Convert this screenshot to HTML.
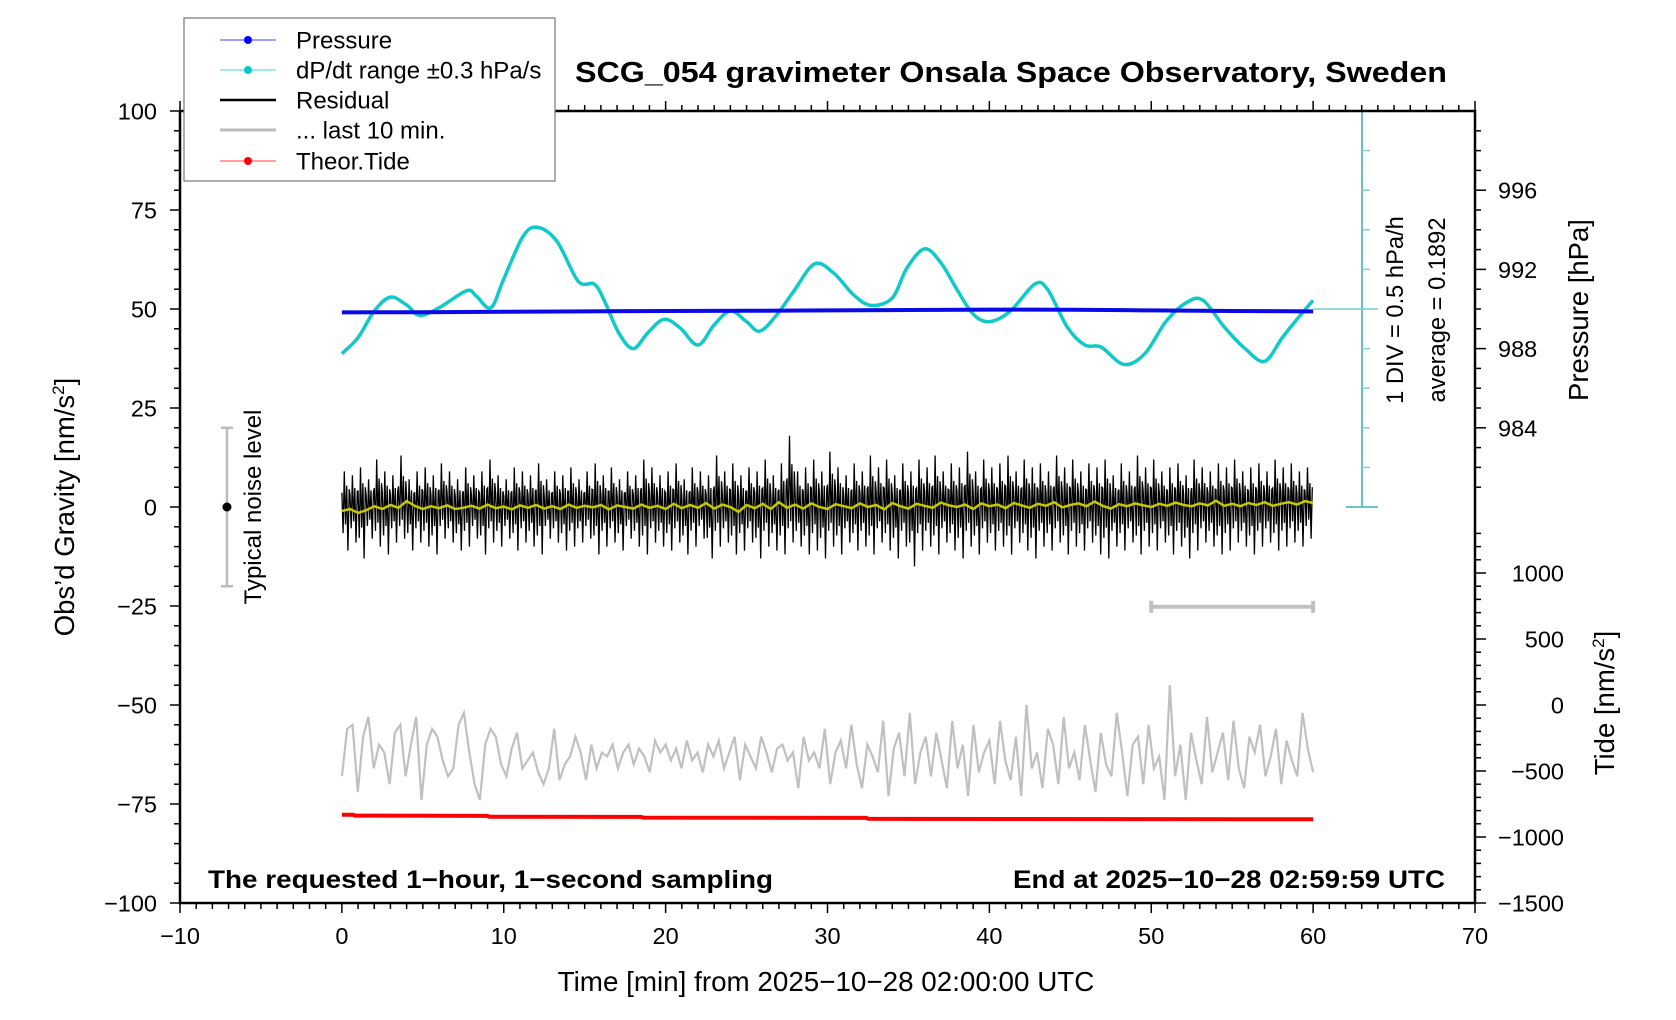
<!DOCTYPE html>
<html><head><meta charset="utf-8"><style>
html,body{margin:0;padding:0;background:#fff}
svg{display:block;font-family:"Liberation Sans",Arial,sans-serif}
</style></head><body>
<svg id="chart" width="1676" height="1020" viewBox="0 0 1676 1020" xmlns="http://www.w3.org/2000/svg">
<rect width="1676" height="1020" fill="#fff"/>
<g id="marks"></g>
<g id="axes"></g>
<text x="1011" y="82" text-anchor="middle" font-size="29" font-weight="bold" textLength="872" lengthAdjust="spacingAndGlyphs">SCG_054 gravimeter Onsala Space Observatory, Sweden</text>
<text x="208" y="888" font-size="25" font-weight="bold" textLength="565" lengthAdjust="spacingAndGlyphs">The requested 1−hour, 1−second sampling</text>
<text x="1445" y="888" text-anchor="end" font-size="25" font-weight="bold" textLength="432" lengthAdjust="spacingAndGlyphs">End at 2025−10−28 02:59:59 UTC</text>
<text x="826" y="991" text-anchor="middle" font-size="27.8">Time [min] from 2025−10−28 02:00:00 UTC</text>
<text transform="translate(74,507) rotate(-90)" text-anchor="middle" font-size="27.5">Obs’d Gravity [nm/s<tspan font-size="17" dy="-10">2</tspan><tspan dy="10">]</tspan></text>
<text transform="translate(1588,310) rotate(-90)" text-anchor="middle" font-size="27.5">Pressure [hPa]</text>
<text transform="translate(1614,703) rotate(-90)" text-anchor="middle" font-size="27.5">Tide [nm/s<tspan font-size="17" dy="-10">2</tspan><tspan dy="10">]</tspan></text>
<text transform="translate(1403,310) rotate(-90)" text-anchor="middle" font-size="23.7">1 DIV = 0.5 hPa/h</text>
<text transform="translate(1445,310) rotate(-90)" text-anchor="middle" font-size="23.7">average = 0.1892</text>
<text transform="translate(261,507) rotate(-90)" text-anchor="middle" font-size="24">Typical noise level</text>
<g>
<rect x="184" y="18" width="371" height="163" fill="#fff" stroke="#777" stroke-width="1.2"/>
<g><line x1="220" y1="40" x2="276" y2="40" stroke="#6666ff" stroke-width="1.2"/><circle cx="248" cy="40" r="4" fill="#0000ff"/><text x="296" y="48.5" font-size="24">Pressure</text></g>
<g><line x1="220" y1="70" x2="276" y2="70" stroke="#66dddd" stroke-width="1.2"/><circle cx="248" cy="70" r="4" fill="#00cccc"/><text x="296" y="78.5" font-size="24">dP/dt range ±0.3 hPa/s</text></g>
<g><line x1="220" y1="100" x2="276" y2="100" stroke="#000" stroke-width="2.5"/><text x="296" y="108.5" font-size="24">Residual</text></g>
<g><line x1="220" y1="130" x2="276" y2="130" stroke="#bbb" stroke-width="3"/><text x="296" y="138.5" font-size="24">... last 10 min.</text></g>
<g><line x1="220" y1="161" x2="276" y2="161" stroke="#ff6666" stroke-width="1.2"/><circle cx="248" cy="161" r="4" fill="#ff0000"/><text x="296" y="169.5" font-size="24">Theor.Tide</text></g>
</g>
</svg>
<script>
// ---- data ----
const dpdtTimes = [0,1,2,3,4,4.8,6,7.7,8.3,9.2,10,11.2,12.1,13.3,14.6,15.6,16.2,17.1,18,18.9,19.9,20.9,22,23,24,25,25.8,26.8,27.9,29.2,30.4,31.6,32.7,34,34.9,36,37,38,39,40,41.3,42.8,43.6,44.8,45.9,46.9,48.3,49.6,50.9,52.2,53.2,54.5,55.8,57,58.1,59.1,60];
const dpdtValues = [-0.565,-0.36,-0.025,0.15,0.05,-0.08,0.015,0.23,0.165,0.015,0.38,0.92,1.03,0.85,0.35,0.315,0.11,-0.3,-0.5,-0.3,-0.13,-0.24,-0.455,-0.2,-0.025,-0.16,-0.28,-0.09,0.22,0.57,0.45,0.18,0.045,0.14,0.515,0.76,0.585,0.245,-0.065,-0.16,-0.025,0.315,0.245,-0.225,-0.455,-0.48,-0.7,-0.565,-0.16,0.085,0.11,-0.225,-0.5,-0.66,-0.36,-0.105,0.11];
const pressureTimes = [0,5,10,15,20,25,30,35,40,45,50,55,60];
const pressureValues = [989.83,989.84,989.86,989.88,989.90,989.91,989.93,989.95,989.97,989.96,989.93,989.90,989.88];
const tideTimes = [0,0.7,0.8,9,9.1,18.5,18.6,32.4,32.5,60];
const tideValues = [-832,-832,-838,-840,-846,-848,-853,-855,-862,-866];
const resMax = [9,8,10,7,12,9,8,13,7,9,10,8,11,9,7,10,8,9,12,8,7,10,9,8,11,7,9,8,10,7,9,11,8,10,7,9,8,12,10,8,9,11,7,10,9,8,13,9,11,8,10,9,12,8,11,18,9,10,12,9,14,10,8,11,9,13,10,12,8,11,9,12,10,13,9,11,10,14,9,12,10,11,13,9,12,10,11,9,13,10,12,9,11,10,12,8,11,9,13,10,12,9,10,11,8,12,10,9,11,10,12,9,10,11,9,12,10,11,9,10];
const resMin = [-11,-9,-13,-8,-10,-12,-9,-8,-11,-9,-10,-12,-8,-9,-11,-10,-8,-12,-9,-10,-8,-11,-9,-10,-12,-8,-9,-11,-10,-9,-8,-12,-10,-9,-11,-8,-10,-12,-9,-10,-11,-9,-12,-10,-8,-13,-10,-9,-12,-11,-9,-13,-10,-11,-12,-9,-10,-12,-11,-13,-10,-12,-9,-11,-10,-12,-9,-11,-13,-10,-15,-11,-10,-12,-9,-11,-13,-10,-12,-9,-11,-10,-12,-9,-11,-13,-10,-11,-9,-12,-10,-11,-9,-12,-13,-10,-11,-9,-12,-10,-11,-9,-12,-10,-13,-11,-9,-10,-12,-11,-9,-10,-12,-10,-9,-11,-10,-9,-10,-8];
const smoothValues = [-1,-0.5,-1.5,-0.8,0.2,-0.5,0.5,-0.2,1.5,0.3,-0.5,0.2,-0.3,0.4,-0.5,-0.2,0.3,-0.4,0.6,-0.3,0.1,-0.6,0.4,-0.2,0.5,-0.4,0.2,-0.5,0.6,-0.2,0.3,-0.1,0.5,-0.6,0.4,0,-0.4,0.6,-0.2,0.3,-0.5,0.8,-0.3,0.5,-0.2,1,-0.4,0.6,0,-1.2,0.5,-0.3,0.8,-0.5,1.2,-0.2,0.6,-0.4,0.9,0,-0.5,0.7,0.2,-0.3,0.9,0,0.5,-0.6,1,0.2,-0.4,0.8,0.3,-0.2,1.1,0.4,0,0.6,-0.5,0.9,0.2,0.6,-0.3,1,0.4,-0.2,0.8,0.3,1.2,-0.1,0.5,0.9,0.2,1.4,0.3,-0.4,0.7,0.2,0.9,0.4,0,0.8,0.3,1.1,0.5,0.2,0.9,0.4,1.6,0.3,0.8,0.2,1,0.5,1.2,0.3,0.8,1.2,0.6,1.5,1];
const last10Values = [-68,-56,-55,-72,-58,-53,-66,-60,-62,-70,-57,-55,-68,-60,-53,-74,-60,-56,-58,-64,-68,-66,-55,-52,-62,-70,-74,-60,-56,-58,-65,-68,-61,-57,-66,-64,-62,-67,-70,-66,-56,-69,-65,-63,-58,-62,-69,-60,-66,-62,-63,-60,-66,-62,-60,-65,-61,-63,-67,-59,-62,-60,-64,-61,-66,-59,-64,-62,-67,-60,-63,-59,-66,-62,-58,-69,-60,-63,-66,-58,-62,-67,-61,-60,-64,-62,-71,-58,-64,-62,-66,-56,-70,-62,-59,-66,-55,-65,-71,-60,-63,-67,-54,-73,-61,-57,-68,-52,-70,-62,-58,-68,-57,-64,-71,-54,-66,-60,-73,-55,-67,-62,-59,-70,-54,-64,-69,-58,-73,-50,-66,-62,-71,-56,-60,-70,-53,-66,-62,-69,-55,-64,-72,-57,-65,-68,-52,-62,-73,-60,-58,-70,-55,-66,-63,-74,-45,-68,-60,-74,-57,-64,-70,-53,-67,-62,-57,-69,-54,-66,-71,-58,-62,-55,-68,-63,-56,-70,-59,-64,-68,-52,-61,-67];
const xTicks = [-10,0,10,20,30,40,50,60,70];
const gTicks = [-100,-75,-50,-25,0,25,50,75,100];
const pTicks = [984,988,992,996];
const tTicks = [-1500,-1000,-500,0,500,1000];

// ---- scales ----
const xs = t => 180 + (t + 10) * 16.1875;
const yg = g => 507 - g * 3.96;
const yp = p => 111 + (1000 - p) * 19.8;
const yt = v => 903 - (v + 1500) * 0.132;
const yd = v => yg(50 + v * 20);
const NS = 'http://www.w3.org/2000/svg';
const marks = document.getElementById('marks');
const axes = document.getElementById('axes');
function mk(tag, attrs, parent) {
  const e = document.createElementNS(NS, tag);
  for (const k in attrs) e.setAttribute(k, attrs[k]);
  parent.appendChild(e);
  return e;
}
function smoothPath(pts) {
  let d = 'M' + pts[0][0].toFixed(1) + ',' + pts[0][1].toFixed(1);
  for (let i = 0; i < pts.length - 1; i++) {
    const p0 = pts[Math.max(i - 1, 0)], p1 = pts[i], p2 = pts[i + 1], p3 = pts[Math.min(i + 2, pts.length - 1)];
    const c1 = [p1[0] + (p2[0] - p0[0]) / 6, p1[1] + (p2[1] - p0[1]) / 6];
    const c2 = [p2[0] - (p3[0] - p1[0]) / 6, p2[1] - (p3[1] - p1[1]) / 6];
    d += 'C' + c1.map(v => v.toFixed(1)).join(',') + ' ' + c2.map(v => v.toFixed(1)).join(',') + ' ' + p2[0].toFixed(1) + ',' + p2[1].toFixed(1);
  }
  return d;
}

// noise bar
const nb = mk('g', {}, marks);


mk('line', {x1: xs(-7.1), x2: xs(-7.1), y1: yg(20), y2: yg(-20), stroke: '#bbb', 'stroke-width': 2.5}, nb);
mk('line', {x1: xs(-7.1) - 6, x2: xs(-7.1) + 6, y1: yg(20), y2: yg(20), stroke: '#bbb', 'stroke-width': 2.5}, nb);
mk('line', {x1: xs(-7.1) - 6, x2: xs(-7.1) + 6, y1: yg(-20), y2: yg(-20), stroke: '#bbb', 'stroke-width': 2.5}, nb);
mk('circle', {cx: xs(-7.1), cy: yg(0), r: 4.5, fill: '#000'}, nb);

// dP/dt scale axis
const da = mk('g', {}, marks);


mk('line', {x1: 1362, x2: 1362, y1: yd(2.5), y2: yd(-2.5), stroke: '#55bbbb', 'stroke-width': 1.8}, da);
for (let k = -5; k <= 5; k++) {
  const v = k * 0.5, y = yd(v);
  if (k === 0) mk('line', {x1: xs(60), x2: 1378, y1: y, y2: y, stroke: '#77cccc', 'stroke-width': 1.5}, da);
  else if (Math.abs(k) === 5) mk('line', {x1: 1346, x2: 1378, y1: y, y2: y, stroke: '#55bbbb', 'stroke-width': 1.8}, da);
  else mk('line', {x1: 1362, x2: 1370, y1: y, y2: y, stroke: '#88cccc', 'stroke-width': 1.5}, da);
}

// last 10 min range bar
const lb = mk('g', {}, marks);


mk('line', {x1: xs(50), x2: xs(60), y1: yg(-25.2), y2: yg(-25.2), stroke: '#c0c0c0', 'stroke-width': 4}, lb);
mk('line', {x1: xs(50), x2: xs(50), y1: yg(-25.2) - 6, y2: yg(-25.2) + 6, stroke: '#c0c0c0', 'stroke-width': 4}, lb);
mk('line', {x1: xs(60), x2: xs(60), y1: yg(-25.2) - 6, y2: yg(-25.2) + 6, stroke: '#c0c0c0', 'stroke-width': 4}, lb);

// dP/dt curve
const dp = mk('path', {d: smoothPath(dpdtTimes.map((t, i) => [xs(t), yd(dpdtValues[i])])), fill: 'none', stroke: '#11c9c9', 'stroke-width': 3.5, 'stroke-linejoin': 'round'}, marks);



// pressure line
const pl = mk('path', {d: smoothPath(pressureTimes.map((t, i) => [xs(t), yp(pressureValues[i])])), fill: 'none', stroke: '#0a0ae8', 'stroke-width': 4}, marks);



// residual
let rd = '';
const bw = 60 / resMax.length;
resMax.forEach((mx, i) => {
  const mn = resMin[i], t0 = i * bw;
  const pts = [[t0, mx * 0.4], [t0 + bw * 0.15, mn * 0.6], [t0 + bw * 0.3, mx], [t0 + bw * 0.45, mn * 0.4], [t0 + bw * 0.6, mx * 0.6], [t0 + bw * 0.75, mn], [t0 + bw * 0.9, mx * 0.5]];
  pts.forEach((p, j) => { rd += (i === 0 && j === 0 ? 'M' : 'L') + xs(p[0]).toFixed(1) + ',' + yg(p[1]).toFixed(1); });
});
const rp = mk('path', {d: rd, fill: 'none', stroke: '#000', 'stroke-width': 1.3}, marks);



// smoothed residual
const sp = mk('polyline', {points: smoothValues.map((v, i) => xs(i * 60 / (smoothValues.length - 1)).toFixed(1) + ',' + yg(v).toFixed(1)).join(' '), fill: 'none', stroke: '#c8c800', 'stroke-width': 2.5}, marks);



// last 10 min
const gp = mk('polyline', {points: last10Values.map((v, i) => xs(i * 60 / (last10Values.length - 1)).toFixed(1) + ',' + yg(v).toFixed(1)).join(' '), fill: 'none', stroke: '#c0c0c0', 'stroke-width': 2.2}, marks);



// tide
const tp = mk('polyline', {points: tideTimes.map((t, i) => xs(t).toFixed(1) + ',' + yt(tideValues[i]).toFixed(1)).join(' '), fill: 'none', stroke: '#ff0000', 'stroke-width': 4}, marks);



// ---- axes ----
const frame = mk('rect', {x: 180, y: 111, width: 1295, height: 792, fill: 'none', stroke: '#000', 'stroke-width': 2.5}, axes);


for (let t = -10; t <= 70; t++) {
  const big = t % 10 === 0, L = big ? 10 : 6;
  mk('line', {x1: xs(t), x2: xs(t), y1: 903, y2: 903 + L, stroke: '#000', 'stroke-width': 1.5}, axes);
  mk('line', {x1: xs(t), x2: xs(t), y1: 111, y2: 111 - L, stroke: '#000', 'stroke-width': 1.5}, axes);
}
xTicks.forEach(t => {
  const tx = mk('text', {x: xs(t), y: 944, 'text-anchor': 'middle', 'font-size': 23.5}, axes);
  
  
  tx.textContent = String(t).replace('-', '−');
});
for (let g = -100; g <= 100; g += 5) {
  const L = g % 25 === 0 ? 10 : 6;
  mk('line', {x1: 180 - L, x2: 180, y1: yg(g), y2: yg(g), stroke: '#000', 'stroke-width': 1.5}, axes);
}
gTicks.forEach(g => {
  const tx = mk('text', {x: 157, y: yg(g) + 8.5, 'text-anchor': 'end', 'font-size': 23.5}, axes);
  
  
  tx.textContent = String(g).replace('-', '−');
});
for (let p = 981; p <= 999; p++) {
  const L = p % 4 === 0 ? 11 : 6;
  mk('line', {x1: 1475, x2: 1475 + L, y1: yp(p), y2: yp(p), stroke: '#000', 'stroke-width': 1.5}, axes);
}
pTicks.forEach(p => {
  const tx = mk('text', {x: 1498, y: yp(p) + 8.5, 'font-size': 23.5}, axes);
  
  
  tx.textContent = String(p);
});
for (let v = -1500; v <= 1300; v += 100) {
  const L = v % 500 === 0 ? 11 : 6;
  mk('line', {x1: 1475, x2: 1475 + L, y1: yt(v), y2: yt(v), stroke: '#000', 'stroke-width': 1.5}, axes);
}
tTicks.forEach(v => {
  const tx = mk('text', {x: 1564, y: yt(v) + 8.5, 'text-anchor': 'end', 'font-size': 23.5}, axes);
  
  
  tx.textContent = String(v).replace('-', '−');
});
</script>
</body></html>
